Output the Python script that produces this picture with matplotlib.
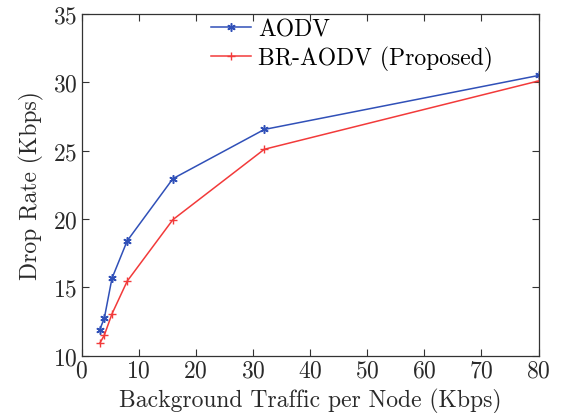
import matplotlib
matplotlib.use("Agg")
import matplotlib.pyplot as plt

# traffico di fondo per nodo (Kbps)
traffico = [3.2, 4, 5.33, 8, 16, 32, 80]
aodv = [11.9, 12.75, 15.65, 18.4, 22.95, 26.55, 30.5]
br_aodv = [10.9, 11.5, 13.05, 15.45, 19.95, 25.1, 30.1]

plt.rcParams["font.family"] = "serif"
plt.rcParams["font.serif"] = ["cmr10"]
plt.rcParams["mathtext.fontset"] = "cm"
plt.rcParams["axes.formatter.use_mathtext"] = True
plt.rcParams["font.size"] = 17

fig = plt.figure(figsize=(5.66, 4.14), dpi=100)
ax = fig.add_axes([81.5 / 566, 57.4 / 414, 457 / 566, 341.6 / 414])

ax.plot(traffico, aodv, "-", marker=(6, 2, 0), color="#3050b8", mew=1.1, lw=1.1, ms=6, label="AODV")
ax.plot(traffico, br_aodv, "-", marker="+", color="#f23a3a", mew=1.0, lw=1.1, ms=6, label="BR-AODV (Proposed)")

ax.set_xlim(0, 80); ax.set_ylim(10, 35)
ax.set_xticks(range(0, 81, 10)); ax.set_yticks(range(10, 36, 5))
ax.tick_params(direction="in", top=True, right=True, length=5, colors="#333333", labelcolor="#2a2a2a",
               labelsize=17, pad=3)
for s in ax.spines.values():
    s.set_color("#333333"); s.set_linewidth(0.9)
ax.set_xlabel("Background Traffic per Node (Kbps)", color="#2a2a2a", labelpad=4)
ax.set_ylabel("Drop Rate (Kbps)", color="#2a2a2a", labelpad=6)

fig.legend(loc="upper left", bbox_to_anchor=(211 / 566, 1 - 19 / 414), frameon=False,
           borderpad=0, borderaxespad=0, handlelength=1.7, handletextpad=0.3, labelspacing=0.25,
           fontsize=17)

fig.savefig("out.png", dpi=100)
